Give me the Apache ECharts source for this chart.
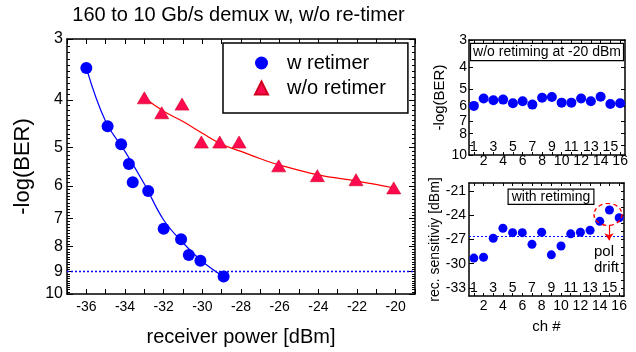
<!DOCTYPE html>
<html><head><meta charset="utf-8">
<script src="https://cdn.jsdelivr.net/npm/echarts@6/dist/echarts.min.js"></script>
<style>html,body{margin:0;padding:0;background:#fff}#c{width:636px;height:352px}</style>
</head><body><div id="c"></div>
<script>
// ---- data ----
const powerW   = [-36.0, -34.9, -34.2, -33.8, -33.6, -32.8, -32.0, -31.1, -30.7, -30.1, -28.9];
const berW     = [3.44, 4.53, 4.93, 5.41, 5.90, 6.15, 7.35, 7.72, 8.32, 8.55, 9.21];
const powerWo  = [-33.0, -32.1, -31.05, -30.05, -29.1, -28.1, -26.05, -24.05, -22.05, -20.1];
const berWo    = [3.96, 4.25, 4.08, 4.88, 4.88, 4.88, 5.46, 5.72, 5.83, 6.06];
const fitPowerW = [-36, -35, -34, -33, -32, -31, -30, -28.9];
const fitBerW   = [3.44, 4.43, 5.10, 5.95, 7.05, 7.85, 8.58, 9.22];
const fitPowerWo = [-33, -32, -31, -30, -29, -28, -27, -26, -24, -22, -20];
const fitBerWo   = [3.96, 4.22, 4.43, 4.68, 4.93, 5.10, 5.28, 5.44, 5.70, 5.87, 6.07];
const berThreshold = 9;
const channels = [1,2,3,4,5,6,7,8,9,10,11,12,13,14,15,16];
const berNoRetime = [5.98, 5.54, 5.64, 5.60, 5.82, 5.70, 5.90, 5.49, 5.45, 5.78, 5.78, 5.53, 5.70, 5.43, 5.86, 5.82];
const sensRetime = [-29.3, -29.2, -26.85, -25.6, -26.15, -26.15, -27.6, -26.1, -28.9, -27.8, -26.3, -26.1, -25.85, -24.75, -23.35, -24.3];
const sensMean = -26.6;
const polDrift = [14.85, -23.9];
const arrowFrom = [14.95, -25.2], arrowTo = [14.95, -27.1];
const powerLabels = [-36, -34, -32, -30, -28, -26, -24, -22, -20];
const berLabels = [3, 4, 5, 6, 7, 8, 9, 10];
const chEven = [2, 4, 6, 8, 10, 12, 14, 16];
const chOdd = [1, 3, 5, 7, 9, 11, 13, 15];
const sensLabels = [-33, -30, -27, -24, -21];

// ---- helpers ----
const FONT = '"Liberation Sans", Arial, Helvetica, sans-serif';
const BLUE = '#0000ff', RED = '#ff0000', TRI = '#ff0a50';
const zip = (a, b) => a.map((v, i) => [v, b[i]]);
const lg = Math.log10;
// tick positions on the log scale expressed in log space (for tick-only helper axes)
const berMajorLog = berLabels.map(lg);
const berMinorLog = [];
for (let k = 31; k < 100; k++) if (k % 10) berMinorLog.push(lg(k / 10));
const sensMinor = [];
for (let v = -34; v <= -20; v++) sensMinor.push(v);

function ax(o) {
  const base = {
    splitLine: { show: false },
    axisLine: { show: true, onZero: false, lineStyle: { color: '#000', width: 1.5 } },
    axisTick: { show: false },
    axisLabel: { show: false },
    nameTextStyle: { color: '#000', fontFamily: FONT }
  };
  return Object.assign(base, o);
}
const lbl = (o) => Object.assign({ show: true, color: '#000', fontSize: 14, fontFamily: FONT,
  hideOverlap: false, showMinLabel: true, showMaxLabel: true }, o);
const tick = (o) => Object.assign({ show: true, inside: true, lineStyle: { color: '#000', width: 1 } }, o);
// helper axis in log space for ticks only
const logTickAxis = (grid, pos, line, vals, len) => ax({
  gridIndex: grid, type: 'value', min: lg(3), max: 1, inverse: true, position: pos,
  axisLine: line ? { show: true, onZero: false, lineStyle: { color: '#000', width: 1.5 } } : { show: false },
  axisTick: tick({ length: len, customValues: vals })
});

const chart = echarts.init(document.getElementById('c'), null, { renderer: 'canvas' });

const option = {
  animation: false,
  backgroundColor: '#fff',
  textStyle: { fontFamily: FONT },
  grid: [
    { left: 67, top: 39, width: 348, height: 258 },
    { left: 469, top: 40, width: 156, height: 115 },
    { left: 469, top: 183, width: 155, height: 113 }
  ],
  xAxis: [
    ax({ gridIndex: 0, type: 'value', min: -37, max: -19, interval: 1, position: 'bottom',
      axisTick: tick({ length: 5 }),
      axisLabel: lbl({ customValues: powerLabels, margin: 6 }),
      name: 'receiver power [dBm]', nameLocation: 'middle', nameGap: 33,
      nameTextStyle: { color: '#000', fontSize: 20, fontFamily: FONT } }),
    ax({ gridIndex: 0, type: 'value', min: -37, max: -19, interval: 1, position: 'top',
      axisTick: tick({ length: 5 }) }),
    // top-right chart
    ax({ gridIndex: 1, type: 'value', min: 0.5, max: 16.5, position: 'bottom',
      axisTick: tick({ length: 3, customValues: channels }),
      axisLabel: lbl({ customValues: chEven, margin: -1 }) }),
    ax({ gridIndex: 1, type: 'value', min: 0.5, max: 16.5, position: 'bottom',
      axisLine: { show: false },
      axisLabel: lbl({ customValues: chOdd, inside: true, margin: 1 }) }),
    ax({ gridIndex: 1, type: 'value', min: 0.5, max: 16.5, position: 'top',
      axisTick: tick({ length: 3, customValues: channels }) }),
    // bottom-right chart
    ax({ gridIndex: 2, type: 'value', min: 0.5, max: 16.5, position: 'bottom',
      axisTick: tick({ length: 3, customValues: channels }),
      axisLabel: lbl({ customValues: chEven, margin: 3 }),
      name: 'ch #', nameLocation: 'middle', nameGap: 23,
      nameTextStyle: { color: '#000', fontSize: 15, fontFamily: FONT } }),
    ax({ gridIndex: 2, type: 'value', min: 0.5, max: 16.5, position: 'bottom',
      axisLine: { show: false },
      axisLabel: lbl({ customValues: chOdd, inside: true, margin: 1 }) }),
    ax({ gridIndex: 2, type: 'value', min: 0.5, max: 16.5, position: 'top',
      axisTick: tick({ length: 3, customValues: channels }) })
  ],
  yAxis: [
    // 0: main log axis with labels
    ax({ gridIndex: 0, type: 'log', logBase: 10, min: 3, max: 10, inverse: true, position: 'left',
      axisLabel: lbl({ customValues: berLabels, margin: 4, fontSize: 16 }),
      name: '-log(BER)', nameLocation: 'middle', nameGap: 29,
      nameTextStyle: { color: '#000', fontSize: 22, fontFamily: FONT } }),
    logTickAxis(0, 'left', false, berMajorLog, 6),     // 1
    logTickAxis(0, 'left', false, berMinorLog, 3),     // 2
    logTickAxis(0, 'right', true, berMajorLog, 6),     // 3
    logTickAxis(0, 'right', false, berMinorLog, 3),    // 4
    // 5: top-right log axis with labels
    ax({ gridIndex: 1, type: 'log', logBase: 10, min: 3, max: 10, inverse: true, position: 'left',
      axisLabel: lbl({ customValues: berLabels, margin: 2 }),
      name: '-log(BER)', nameLocation: 'middle', nameGap: 16,
      nameTextStyle: { color: '#000', fontSize: 15, fontFamily: FONT } }),
    logTickAxis(1, 'left', false, berMajorLog, 4),     // 6
    logTickAxis(1, 'right', true, berMajorLog, 4),     // 7
    // 8: bottom-right
    ax({ gridIndex: 2, type: 'value', min: -34, max: -20, position: 'left',
      axisTick: tick({ length: 5, customValues: sensLabels }),
      axisLabel: lbl({ customValues: sensLabels, margin: 3 }),
      name: 'rec. sensitiviy [dBm]', nameLocation: 'middle', nameGap: 27,
      nameTextStyle: { color: '#000', fontSize: 14, fontFamily: FONT } }),
    ax({ gridIndex: 2, type: 'value', min: -34, max: -20, position: 'right',
      axisTick: tick({ length: 3, customValues: sensMinor }) })
  ],
  legend: {
    data: ['w retimer', 'w/o retimer'],
    orient: 'vertical', left: 223, top: 43,
    itemWidth: 13, itemHeight: 13, itemGap: 5,
    padding: [10, 22, 15, 31],
    borderColor: '#000', borderWidth: 1.5, backgroundColor: '#fff',
    textStyle: { color: '#000', fontSize: 20, fontFamily: FONT, padding: [0, 0, 0, 14] },
    selectedMode: false
  },
  series: [
    { name: 'fitW', type: 'line', xAxisIndex: 0, yAxisIndex: 0, data: zip(fitPowerW, fitBerW),
      smooth: 0.4, showSymbol: false, silent: true, lineStyle: { color: BLUE, width: 1.2 }, z: 2 },
    { name: 'fitWo', type: 'line', xAxisIndex: 0, yAxisIndex: 0, data: zip(fitPowerWo, fitBerWo),
      smooth: 0.4, showSymbol: false, silent: true, lineStyle: { color: RED, width: 1.2 }, z: 2 },
    { name: 'w retimer', type: 'scatter', xAxisIndex: 0, yAxisIndex: 0, data: zip(powerW, berW),
      symbol: 'circle', symbolSize: 12, itemStyle: { color: BLUE, opacity: 1 }, z: 3,
      markLine: { silent: true, symbol: 'none', label: { show: false },
        lineStyle: { color: BLUE, type: [2, 2], width: 1.3, opacity: 1 },
        data: [{ yAxis: berThreshold, lineStyle: { color: BLUE } }] } },
    { name: 'w/o retimer', type: 'scatter', xAxisIndex: 0, yAxisIndex: 0, data: zip(powerWo, berWo),
      symbol: 'triangle', symbolSize: [14, 12], itemStyle: { color: TRI, borderColor: '#d00020', borderWidth: 0.6, opacity: 1 }, z: 3 },
    { name: 'noRetime', type: 'scatter', xAxisIndex: 2, yAxisIndex: 5, data: zip(channels, berNoRetime),
      symbol: 'circle', symbolSize: 10, itemStyle: { color: BLUE, opacity: 1 } },
    { name: 'retime', type: 'scatter', xAxisIndex: 5, yAxisIndex: 8, data: zip(channels, sensRetime),
      symbol: 'circle', symbolSize: 9, itemStyle: { color: BLUE, opacity: 1 },
      markLine: { silent: true, symbol: 'none', label: { show: false },
        lineStyle: { color: BLUE, type: [2, 2], width: 1.2 },
        data: [
          { yAxis: sensMean },
          [ { coord: arrowFrom, symbol: 'none', lineStyle: { color: RED, type: 'solid', width: 1.2 } },
            { coord: arrowTo, symbol: 'arrow', symbolSize: 7 } ]
        ] } },
    { name: 'polDrift', type: 'scatter', xAxisIndex: 5, yAxisIndex: 8, data: [polDrift],
      symbol: 'circle', symbolSize: [28, 22], silent: true,
      itemStyle: { color: 'rgba(0,0,0,0)', borderColor: RED, borderWidth: 1.3, borderType: [4, 3], opacity: 1 } }
  ],
  graphic: [
    { type: 'text', x: 238.5, y: 15, z: 100,
      style: { text: '160 to 10 Gb/s demux w, w/o re-timer', fill: '#000', font: '20px ' + FONT, align: 'center', verticalAlign: 'middle' } },
    { type: 'text', x: 547, y: 52, z: 100,
      style: { text: 'w/o retiming at -20 dBm', fill: '#000', font: '14px ' + FONT, align: 'center', verticalAlign: 'middle',
        borderColor: '#000', borderWidth: 1.2, padding: [1, 2, 1, 2], backgroundColor: '#fff' } },
    { type: 'text', x: 551, y: 196.7, z: 100,
      style: { text: 'with retiming', fill: '#000', font: '14px ' + FONT, align: 'center', verticalAlign: 'middle',
        borderColor: '#000', borderWidth: 1.2, padding: [0, 3, 0, 3], backgroundColor: '#fff' } },
    { type: 'text', x: 594, y: 244, z: 100,
      style: { text: 'pol\ndrift', fill: '#000', font: '15px ' + FONT, align: 'left', verticalAlign: 'top', lineHeight: 15.6 } }
  ]
};
chart.setOption(option);
</script>
</body></html>
